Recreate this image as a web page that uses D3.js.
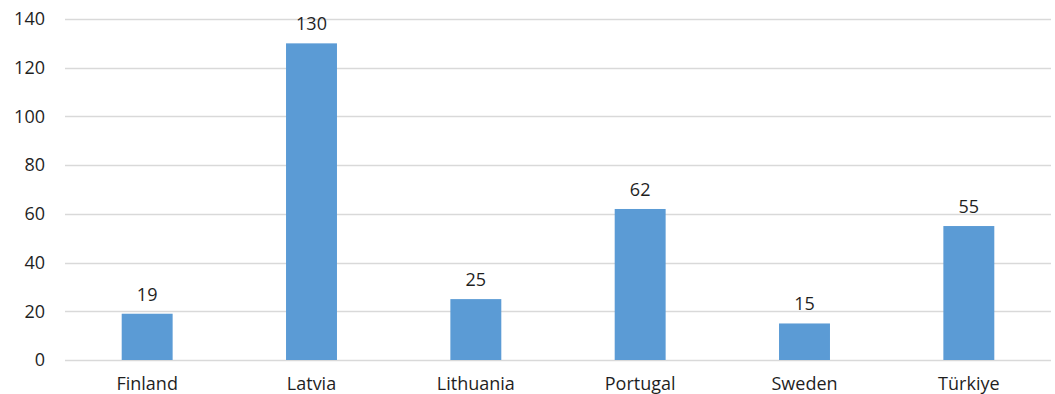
<!DOCTYPE html>
<meta charset="utf-8">
<style>
  body { margin: 0; background: #fff; }
  text { font-family: "Open Sans", "Noto Sans", sans-serif; fill: #1f1f1f; }
  .bar { fill: #5b9bd5; }
  .grid line { stroke: #d9d9d9; stroke-width: 1.3; }
</style>
<body>
<script src="https://d3js.org/d3.v7.min.js"></script>
<script>
  // data
  var countries = ["Finland", "Latvia", "Lithuania", "Portugal", "Sweden", "Türkiye"];
  var values = [19, 130, 25, 62, 15, 55];
  var yTicks = [0, 20, 40, 60, 80, 100, 120, 140];

  var width = 1055, height = 394;
  var plotLeft = 65, plotRight = 1051, plotTop = 19, plotBottom = 360;

  var x = d3.scaleBand()
    .domain(countries)
    .range([plotLeft, plotRight])
    .paddingInner(0.69)
    .paddingOuter(0.345);
  var y = d3.scaleLinear()
    .domain([0, 140])
    .range([plotBottom, plotTop]);

  var svg = d3.select("body").append("svg")
    .attr("width", width)
    .attr("height", height);

  // gridlines
  svg.append("g").attr("class", "grid")
    .selectAll("line")
    .data(yTicks)
    .enter().append("line")
    .attr("x1", plotLeft)
    .attr("x2", plotRight)
    .attr("y1", function(d) { return Math.round(y(d)) + 0.5; })
    .attr("y2", function(d) { return Math.round(y(d)) + 0.5; });

  // y labels
  svg.append("g")
    .selectAll("text")
    .data(yTicks)
    .enter().append("text")
    .attr("x", 45)
    .attr("y", function(d) { return y(d); })
    .attr("dy", "0.35em")
    .attr("text-anchor", "end")
    .style("font-size", "18px")
    .text(function(d) { return d; });

  // bars
  svg.selectAll(".bar")
    .data(values)
    .enter().append("rect")
    .attr("class", "bar")
    .attr("x", function(d, i) { return x(countries[i]); })
    .attr("width", x.bandwidth())
    .attr("y", function(d) { return y(d); })
    .attr("height", function(d) { return plotBottom - y(d); });

  // value labels
  svg.append("g")
    .selectAll("text")
    .data(values)
    .enter().append("text")
    .attr("x", function(d, i) { return x(countries[i]) + x.bandwidth() / 2; })
    .attr("y", function(d) { return y(d) - 13; })
    .attr("text-anchor", "middle")
    .style("font-size", "18px")
    .text(function(d) { return d; });

  // category labels
  svg.append("g")
    .selectAll("text")
    .data(countries)
    .enter().append("text")
    .attr("x", function(d) { return x(d) + x.bandwidth() / 2; })
    .attr("y", 390)
    .attr("text-anchor", "middle")
    .style("font-size", "18px")
    .text(function(d) { return d; });
</script>
</body>
